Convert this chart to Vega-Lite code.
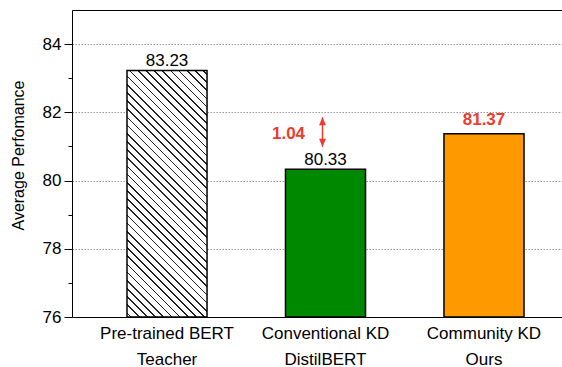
{
  "$schema": "https://vega.github.io/schema/vega-lite/v6.json",
  "autosize": {"type": "none"},
  "padding": {"left": 72, "top": 10, "right": 0, "bottom": 50},
  "width": 490,
  "height": 307,
  "config": {
    "view": {"stroke": null},
    "font": "Liberation Sans",
    "axis": {"labelFont": "Liberation Sans", "titleFont": "Liberation Sans"}
  },
  "data": {
    "values": [
      {"model": "Pre-trained BERT|Teacher", "value": 83.23},
      {"model": "Conventional KD|DistilBERT", "value": 80.33},
      {"model": "Community KD|Ours", "value": 81.37}
    ]
  },
  "resolve": {"axis": {"x": "independent", "y": "independent"}},
  "layer": [
    {
      "transform": [{"filter": "datum.model == 'Pre-trained BERT|Teacher'"}],
      "mark": {
        "type": "bar",
        "stroke": "black",
        "strokeWidth": 1.5,
        "fill": {
          "gradient": "linear",
          "x1": 0, "y1": 1, "x2": 0.3889, "y2": -0.1983,
          "stops": [
            {"offset": 0, "color": "white"},
            {"offset": 0.010, "color": "white"}, {"offset": 0.010, "color": "#222"}, {"offset": 0.015, "color": "#222"}, {"offset": 0.015, "color": "white"},
            {"offset": 0.035, "color": "white"}, {"offset": 0.035, "color": "#222"}, {"offset": 0.040, "color": "#222"}, {"offset": 0.040, "color": "white"},
            {"offset": 0.060, "color": "white"}, {"offset": 0.060, "color": "#222"}, {"offset": 0.065, "color": "#222"}, {"offset": 0.065, "color": "white"},
            {"offset": 0.085, "color": "white"}, {"offset": 0.085, "color": "#222"}, {"offset": 0.090, "color": "#222"}, {"offset": 0.090, "color": "white"},
            {"offset": 0.110, "color": "white"}, {"offset": 0.110, "color": "#222"}, {"offset": 0.115, "color": "#222"}, {"offset": 0.115, "color": "white"},
            {"offset": 0.135, "color": "white"}, {"offset": 0.135, "color": "#222"}, {"offset": 0.140, "color": "#222"}, {"offset": 0.140, "color": "white"},
            {"offset": 0.160, "color": "white"}, {"offset": 0.160, "color": "#222"}, {"offset": 0.165, "color": "#222"}, {"offset": 0.165, "color": "white"},
            {"offset": 0.185, "color": "white"}, {"offset": 0.185, "color": "#222"}, {"offset": 0.190, "color": "#222"}, {"offset": 0.190, "color": "white"},
            {"offset": 0.210, "color": "white"}, {"offset": 0.210, "color": "#222"}, {"offset": 0.215, "color": "#222"}, {"offset": 0.215, "color": "white"},
            {"offset": 0.235, "color": "white"}, {"offset": 0.235, "color": "#222"}, {"offset": 0.240, "color": "#222"}, {"offset": 0.240, "color": "white"},
            {"offset": 0.260, "color": "white"}, {"offset": 0.260, "color": "#222"}, {"offset": 0.265, "color": "#222"}, {"offset": 0.265, "color": "white"},
            {"offset": 0.285, "color": "white"}, {"offset": 0.285, "color": "#222"}, {"offset": 0.290, "color": "#222"}, {"offset": 0.290, "color": "white"},
            {"offset": 0.310, "color": "white"}, {"offset": 0.310, "color": "#222"}, {"offset": 0.315, "color": "#222"}, {"offset": 0.315, "color": "white"},
            {"offset": 0.335, "color": "white"}, {"offset": 0.335, "color": "#222"}, {"offset": 0.340, "color": "#222"}, {"offset": 0.340, "color": "white"},
            {"offset": 0.360, "color": "white"}, {"offset": 0.360, "color": "#222"}, {"offset": 0.365, "color": "#222"}, {"offset": 0.365, "color": "white"},
            {"offset": 0.385, "color": "white"}, {"offset": 0.385, "color": "#222"}, {"offset": 0.390, "color": "#222"}, {"offset": 0.390, "color": "white"},
            {"offset": 0.410, "color": "white"}, {"offset": 0.410, "color": "#222"}, {"offset": 0.415, "color": "#222"}, {"offset": 0.415, "color": "white"},
            {"offset": 0.435, "color": "white"}, {"offset": 0.435, "color": "#222"}, {"offset": 0.440, "color": "#222"}, {"offset": 0.440, "color": "white"},
            {"offset": 0.460, "color": "white"}, {"offset": 0.460, "color": "#222"}, {"offset": 0.465, "color": "#222"}, {"offset": 0.465, "color": "white"},
            {"offset": 0.485, "color": "white"}, {"offset": 0.485, "color": "#222"}, {"offset": 0.490, "color": "#222"}, {"offset": 0.490, "color": "white"},
            {"offset": 0.510, "color": "white"}, {"offset": 0.510, "color": "#222"}, {"offset": 0.515, "color": "#222"}, {"offset": 0.515, "color": "white"},
            {"offset": 0.535, "color": "white"}, {"offset": 0.535, "color": "#222"}, {"offset": 0.540, "color": "#222"}, {"offset": 0.540, "color": "white"},
            {"offset": 0.560, "color": "white"}, {"offset": 0.560, "color": "#222"}, {"offset": 0.565, "color": "#222"}, {"offset": 0.565, "color": "white"},
            {"offset": 0.585, "color": "white"}, {"offset": 0.585, "color": "#222"}, {"offset": 0.590, "color": "#222"}, {"offset": 0.590, "color": "white"},
            {"offset": 0.610, "color": "white"}, {"offset": 0.610, "color": "#222"}, {"offset": 0.615, "color": "#222"}, {"offset": 0.615, "color": "white"},
            {"offset": 0.635, "color": "white"}, {"offset": 0.635, "color": "#222"}, {"offset": 0.640, "color": "#222"}, {"offset": 0.640, "color": "white"},
            {"offset": 0.660, "color": "white"}, {"offset": 0.660, "color": "#222"}, {"offset": 0.665, "color": "#222"}, {"offset": 0.665, "color": "white"},
            {"offset": 0.685, "color": "white"}, {"offset": 0.685, "color": "#222"}, {"offset": 0.690, "color": "#222"}, {"offset": 0.690, "color": "white"},
            {"offset": 0.710, "color": "white"}, {"offset": 0.710, "color": "#222"}, {"offset": 0.715, "color": "#222"}, {"offset": 0.715, "color": "white"},
            {"offset": 0.735, "color": "white"}, {"offset": 0.735, "color": "#222"}, {"offset": 0.740, "color": "#222"}, {"offset": 0.740, "color": "white"},
            {"offset": 0.760, "color": "white"}, {"offset": 0.760, "color": "#222"}, {"offset": 0.765, "color": "#222"}, {"offset": 0.765, "color": "white"},
            {"offset": 0.785, "color": "white"}, {"offset": 0.785, "color": "#222"}, {"offset": 0.790, "color": "#222"}, {"offset": 0.790, "color": "white"},
            {"offset": 0.810, "color": "white"}, {"offset": 0.810, "color": "#222"}, {"offset": 0.815, "color": "#222"}, {"offset": 0.815, "color": "white"},
            {"offset": 0.835, "color": "white"}, {"offset": 0.835, "color": "#222"}, {"offset": 0.840, "color": "#222"}, {"offset": 0.840, "color": "white"},
            {"offset": 0.860, "color": "white"}, {"offset": 0.860, "color": "#222"}, {"offset": 0.865, "color": "#222"}, {"offset": 0.865, "color": "white"},
            {"offset": 0.885, "color": "white"}, {"offset": 0.885, "color": "#222"}, {"offset": 0.890, "color": "#222"}, {"offset": 0.890, "color": "white"},
            {"offset": 0.910, "color": "white"}, {"offset": 0.910, "color": "#222"}, {"offset": 0.915, "color": "#222"}, {"offset": 0.915, "color": "white"},
            {"offset": 0.935, "color": "white"}, {"offset": 0.935, "color": "#222"}, {"offset": 0.940, "color": "#222"}, {"offset": 0.940, "color": "white"},
            {"offset": 0.960, "color": "white"}, {"offset": 0.960, "color": "#222"}, {"offset": 0.965, "color": "#222"}, {"offset": 0.965, "color": "white"},
            {"offset": 0.985, "color": "white"}, {"offset": 0.985, "color": "#222"}, {"offset": 0.990, "color": "#222"}, {"offset": 0.990, "color": "white"},
            {"offset": 1, "color": "white"}
          ]
        }
      },
      "encoding": {
        "x": {
          "field": "model", "type": "nominal",
          "scale": {
            "domain": ["Pre-trained BERT|Teacher", "Conventional KD|DistilBERT", "Community KD|Ours"],
            "range": [0, 507],
            "paddingInner": 0.495,
            "paddingOuter": 0.347
          },
          "axis": {
            "orient": "bottom",
            "title": null,
            "labelExpr": "split(datum.label, '|')",
            "labelAngle": 0,
            "labelFontSize": 17,
            "labelLineHeight": 26,
            "labelPadding": 8,
            "labelColor": "black",
            "ticks": false,
            "domainColor": "black",
            "domainWidth": 1,
            "grid": false,
            "zindex": 1
          }
        },
        "y": {
          "field": "value", "type": "quantitative",
          "scale": {"domain": [76, 85], "nice": false, "zero": false},
          "axis": {
            "orient": "left",
            "title": "Average Perfomance",
            "values": [76, 78, 80, 82, 84],
            "grid": true,
            "gridDash": [1.5, 1.5],
            "gridColor": "#999999",
            "gridWidth": 1,
            "tickSize": 8,
            "tickColor": "black",
            "domainColor": "black",
            "labelFontSize": 17,
            "labelPadding": 3,
            "labelColor": "black",
            "labelFlush": false,
            "titleFontSize": 16,
            "titleFontWeight": "normal",
            "titleColor": "black",
            "titleAngle": -90,
            "titleX": -54,
            "titleY": 145,
            "titleAlign": "center",
            "titleBaseline": "middle"
          }
        },
        "y2": {"datum": 76}
      }
    },
    {
      "transform": [{"filter": "datum.model != 'Pre-trained BERT|Teacher'"}],
      "mark": {"type": "bar", "stroke": "black", "strokeWidth": 1.5},
      "encoding": {
        "x": {"field": "model", "type": "nominal", "axis": null},
        "y": {
          "field": "value", "type": "quantitative",
          "axis": {
            "orient": "left",
            "values": [77, 79, 81, 83],
            "tickSize": 4,
            "tickColor": "black",
            "labels": false,
            "domain": false,
            "grid": false,
            "title": null
          }
        },
        "y2": {"datum": 76},
        "color": {
          "field": "model", "type": "nominal",
          "scale": {"domain": ["Conventional KD|DistilBERT", "Community KD|Ours"], "range": ["#008800", "#FF9900"]},
          "legend": null
        }
      }
    },
    {
      "transform": [{"filter": "datum.model != 'Community KD|Ours'"}],
      "mark": {"type": "text", "fontSize": 17, "baseline": "alphabetic", "dy": -4.5, "color": "black"},
      "encoding": {
        "x": {"field": "model", "type": "nominal", "axis": null},
        "y": {"field": "value", "type": "quantitative", "axis": null},
        "text": {"field": "value", "type": "quantitative", "format": ".2f"}
      }
    },
    {
      "transform": [{"filter": "datum.model == 'Community KD|Ours'"}],
      "mark": {"type": "text", "fontSize": 17, "fontWeight": "bold", "baseline": "alphabetic", "dy": -8.5, "color": "#EE3B2E"},
      "encoding": {
        "x": {
          "field": "model", "type": "nominal",
          "axis": {"orient": "top", "labels": false, "ticks": false, "domainColor": "black", "title": null, "grid": false}
        },
        "y": {"field": "value", "type": "quantitative", "axis": null},
        "text": {"field": "value", "type": "quantitative", "format": ".2f"}
      }
    },
    {
      "data": {"values": [{"model": "Conventional KD|DistilBERT", "top": 81.855, "bottom": 80.99, "gap": "1.04", "gapY": 81.21}]},
      "layer": [
        {
          "mark": {"type": "rule", "color": "#EE3B2E", "strokeWidth": 1.5, "xOffset": -3},
          "encoding": {
            "x": {"field": "model", "type": "nominal", "axis": null},
            "y": {"field": "bottom", "type": "quantitative", "axis": null},
            "y2": {"field": "top"}
          }
        },
        {
          "mark": {"type": "point", "shape": "M0,0L-0.54,1.23L0.54,1.23Z", "size": 169, "filled": true, "color": "#EE3B2E", "opacity": 1, "xOffset": -3},
          "encoding": {
            "x": {"field": "model", "type": "nominal", "axis": null},
            "y": {"field": "top", "type": "quantitative", "axis": null}
          }
        },
        {
          "mark": {"type": "point", "shape": "M0,0L-0.54,-1.23L0.54,-1.23Z", "size": 169, "filled": true, "color": "#EE3B2E", "opacity": 1, "xOffset": -3},
          "encoding": {
            "x": {"field": "model", "type": "nominal", "axis": null},
            "y": {"field": "bottom", "type": "quantitative", "axis": null}
          }
        },
        {
          "mark": {"type": "text", "fontSize": 17, "fontWeight": "bold", "baseline": "alphabetic", "dx": -37, "color": "#EE3B2E"},
          "encoding": {
            "x": {"field": "model", "type": "nominal", "axis": null},
            "y": {"field": "gapY", "type": "quantitative", "axis": null},
            "text": {"field": "gap"}
          }
        }
      ]
    }
  ]
}
